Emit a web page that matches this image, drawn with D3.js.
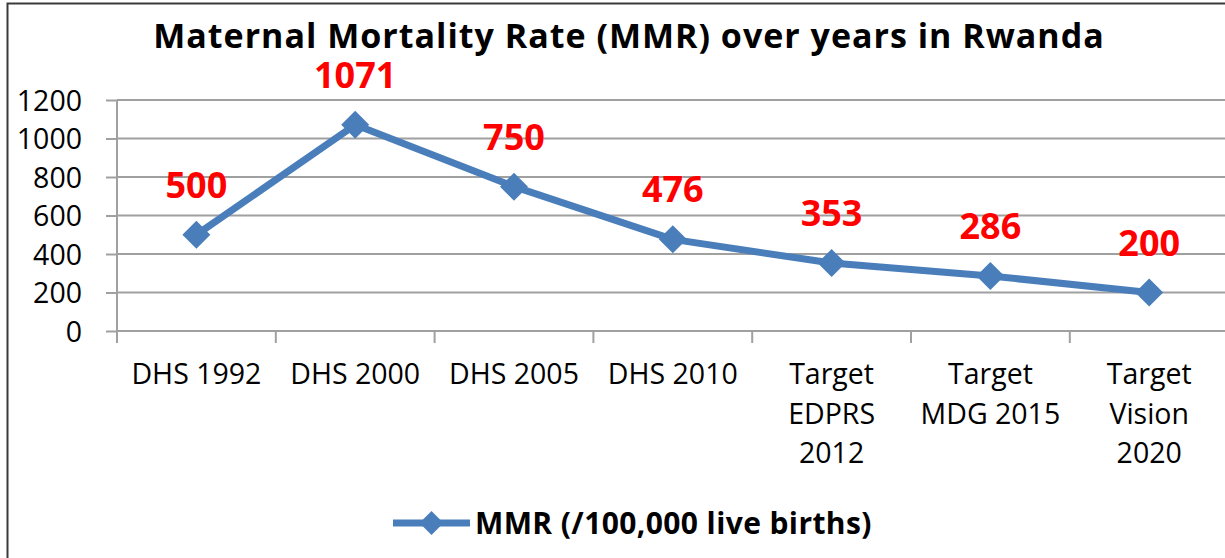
<!DOCTYPE html>
<html>
<head>
<meta charset="utf-8">
<script src="https://cdn.jsdelivr.net/npm/d3@7"></script>
<style>
  html, body { margin: 0; padding: 0; background: #fff; }
  svg { display: block; font-family: "Open Sans", sans-serif; }
</style>
</head>
<body>
<svg id="chart"></svg>
<script>
const categories = [
  ['DHS 1992'],
  ['DHS 2000'],
  ['DHS 2005'],
  ['DHS 2010'],
  ['Target', 'EDPRS', '2012'],
  ['Target', 'MDG 2015'],
  ['Target', 'Vision', '2020'],
];
const mmrValues = [500, 1071, 750, 476, 353, 286, 200];
const yTicks = [0, 200, 400, 600, 800, 1000, 1200];
const chartTitle = 'Maternal Mortality Rate (MMR) over years in Rwanda';
const seriesName = 'MMR (/100,000 live births)';

const svgWidth = 1225, svgHeight = 558;
const margin = {top: 100, left: 117, bottom: 227};
const bandW = 158.8;
const lineColor = '#4a7ebb';

const svg = d3.select('#chart')
    .attr('width', svgWidth)
    .attr('height', svgHeight);

// frame (cropped on right and bottom)
svg.append('path')
    .attr('d', `M7.5,${svgHeight} V3.5 H${svgWidth}`)
    .attr('fill', 'none')
    .attr('stroke', '#3a3a3a')
    .attr('stroke-width', 2);

const keys = categories.map((c) => c.join(' '));
const x = d3.scaleBand()
    .domain(keys)
    .range([margin.left, margin.left + bandW * keys.length]);

const y = d3.scaleLinear()
    .domain([0, 1200])
    .range([svgHeight - margin.bottom, margin.top]);

// title
svg.append('text')
    .attr('x', 629)
    .attr('y', 48)
    .attr('text-anchor', 'middle')
    .attr('font-weight', 'bold')
    .attr('font-size', 34)
    .attr('letter-spacing', 1)
    .attr('fill', '#000')
    .text(chartTitle);

// y axis with gridlines
const yAxis = svg.append('g')
    .attr('transform', `translate(${margin.left},0)`)
    .call(d3.axisLeft(y)
        .tickValues(yTicks)
        .tickSize(11)
        .tickPadding(24)
        .tickFormat(d3.format('d')));
yAxis.select('.domain').remove();
yAxis.selectAll('.tick line').attr('stroke', '#a0a0a0').attr('stroke-width', 2);
yAxis.selectAll('.tick text')
    .attr('font-size', 28.5)
    .attr('font-family', '"Open Sans", sans-serif')
    .attr('fill', '#000')
    .attr('dy', '0.36em');

svg.append('g')
    .selectAll('line')
    .data(yTicks)
    .join('line')
    .attr('x1', margin.left)
    .attr('x2', svgWidth)
    .attr('y1', (d) => y(d))
    .attr('y2', (d) => y(d))
    .attr('stroke', '#a0a0a0')
    .attr('stroke-width', 2);

// y axis line
svg.append('line')
    .attr('x1', margin.left).attr('x2', margin.left)
    .attr('y1', y(1200)).attr('y2', y(0) + 12)
    .attr('stroke', '#a0a0a0')
    .attr('stroke-width', 2);

// x ticks at band boundaries
svg.append('g')
    .selectAll('line')
    .data(keys.slice(1))
    .join('line')
    .attr('x1', (d) => x(d)).attr('x2', (d) => x(d))
    .attr('y1', y(0)).attr('y2', y(0) + 12)
    .attr('stroke', '#a0a0a0')
    .attr('stroke-width', 2);

// x labels
const xLab = svg.append('g')
    .selectAll('text')
    .data(categories)
    .join('text')
    .attr('x', (d) => x(d.join(' ')) + x.bandwidth() / 2)
    .attr('y', 384)
    .attr('text-anchor', 'middle')
    .attr('font-size', 28.5)
    .attr('fill', '#000');
xLab.selectAll('tspan')
    .data((d) => d)
    .join('tspan')
    .attr('x', function () { return d3.select(this.parentNode).attr('x'); })
    .attr('dy', (d, i) => (i === 0 ? 0 : 39.5))
    .text((d) => d);

// line + markers
const pts = mmrValues.map((v, i) => ({key: keys[i], value: v}));
const cx = (d) => x(d.key) + x.bandwidth() / 2;

svg.append('path')
    .datum(pts)
    .attr('fill', 'none')
    .attr('stroke', lineColor)
    .attr('stroke-width', 7)
    .attr('stroke-linejoin', 'round')
    .attr('d', d3.line().x(cx).y((d) => y(d.value)));

const diamond = 'M0,-14 L14,0 L0,14 L-14,0 Z';
svg.append('g')
    .selectAll('path')
    .data(pts)
    .join('path')
    .attr('d', diamond)
    .attr('transform', (d) => `translate(${cx(d)},${y(d.value)})`)
    .attr('fill', lineColor);

// data labels
svg.append('g')
    .selectAll('text')
    .data(pts)
    .join('text')
    .attr('x', cx)
    .attr('y', (d) => y(d.value) - 37)
    .attr('text-anchor', 'middle')
    .attr('font-weight', 'bold')
    .attr('font-size', 36)
    .attr('fill', '#ff0000')
    .text((d) => d.value);

// legend
const legend = svg.append('g').attr('transform', 'translate(393,523)');
legend.append('line')
    .attr('x1', 0).attr('x2', 77)
    .attr('stroke', lineColor)
    .attr('stroke-width', 7);
legend.append('path')
    .attr('d', 'M0,-12 L12,0 L0,12 L-12,0 Z')
    .attr('transform', 'translate(38.5,0)')
    .attr('fill', lineColor);
legend.append('text')
    .attr('x', 82)
    .attr('y', 11)
    .attr('font-weight', 'bold')
    .attr('font-size', 30)
    .attr('letter-spacing', 0.4)
    .attr('fill', '#000')
    .text(seriesName);
</script>
</body>
</html>
